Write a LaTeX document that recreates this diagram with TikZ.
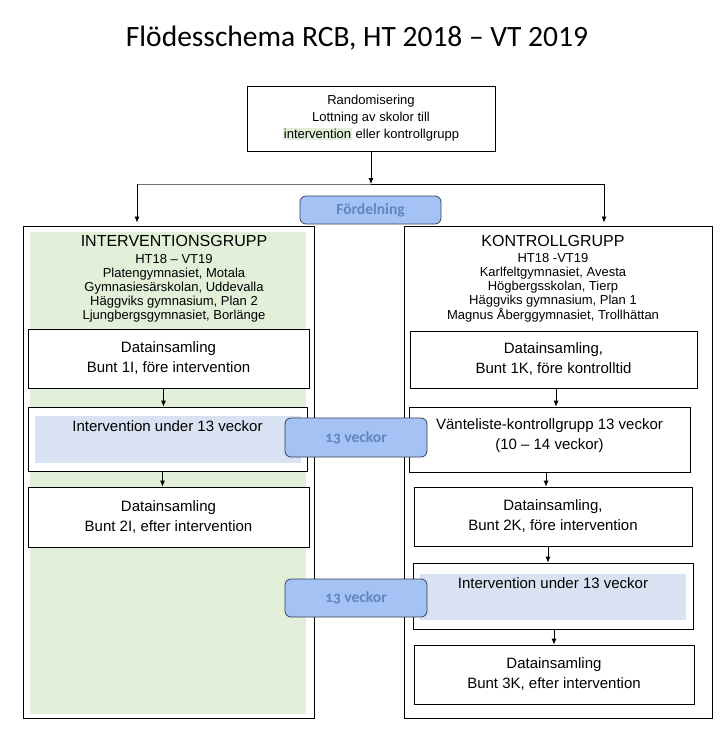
\documentclass[tikz,border=0pt]{standalone}
\usepackage{fontspec}
\setmainfont{Liberation Sans}
\newfontfamily\calibri{Carlito}
\newfontfamily\calibrios{Carlito}[Numbers=OldStyle]
\usetikzlibrary{arrows.meta}
\definecolor{grpgreen}{HTML}{E2EFD9}
\definecolor{intblue}{HTML}{D9E2F3}
\definecolor{tabfill}{HTML}{A4C2F4}
\definecolor{tabtext}{HTML}{5F86C1}
\definecolor{tabline}{HTML}{36435A}
\newcommand{\hlgreen}[1]{{\setlength{\fboxsep}{1pt}\colorbox{grpgreen}{#1}}}

\begin{document}
\begin{tikzpicture}[x=1pt,y=-1pt,
    box/.style={draw,line width=0.75pt,fill=white,inner sep=0pt,align=center,
      font={\fontsize{15}{20}\selectfont}},
    grp/.style={draw,line width=0.85pt,inner sep=0pt},
    tab/.style={draw=tabline,line width=0.8pt,fill=tabfill,rounded corners=6pt,
      inner sep=0pt,text=tabtext,font={\calibrios\bfseries\fontsize{15.5}{18}\selectfont}},
    small/.style={align=center,inner sep=0pt,font={\fontsize{13}{14}\selectfont}},
    head/.style={inner sep=0pt,font={\fontsize{16}{18}\selectfont}},
    arr/.style={-{Latex[length=6pt,width=5pt]},line width=0.75pt}]
  \useasboundingbox (0,0) rectangle (724,736);
  \node[font={\calibri\fontsize{29.5}{34}\selectfont}] (title) at (357,38)
    {Flödesschema RCB, HT 2018 – VT 2019};
  % randomisation and the split
  \node[box,minimum width=248pt,minimum height=65pt,
    font={\fontsize{13}{17}\selectfont}] (rand) at (371,118.5)
    {Randomisering\\Lottning av skolor till\\\hlgreen{intervention} eller kontrollgrupp};
  \coordinate (split) at (371,184);
  \coordinate (jl) at (137,184);
  \coordinate (jr) at (604,184);
  \draw[arr] (rand.south) -- (split);
  \draw[line width=0.75pt,black!55] (jl) -- (split);
  \draw[line width=0.75pt] (split) -- (jr);
  % the two groups
  \node[grp,minimum width=291pt,minimum height=492pt] (lgrp) at (168.5,472) {};
  \fill[grpgreen] (30,232) rectangle (306,714);
  \node[grp,minimum width=308pt,minimum height=492pt] (rgrp) at (558,472) {};
  \draw[arr,shorten >=3pt] (jl) -- (jl |- lgrp.north);
  \draw[arr,shorten >=3pt] (jr) -- (jr |- rgrp.north);
  \node[head] (lhead) at (174,241) {INTERVENTIONSGRUPP};
  \node[small] (lschools) at (174,288) {HT18 – VT19\\Platengymnasiet, Motala\\
    Gymnasiesärskolan, Uddevalla\\Häggviks gymnasium, Plan 2\\Ljungbergsgymnasiet, Borlänge};
  \node[head] (rhead) at (553,241) {KONTROLLGRUPP};
  \node[small] (rschools) at (553,288) {HT18 -VT19\\Karlfeltgymnasiet, Avesta\\
    Högbergsskolan, Tierp\\Häggviks gymnasium, Plan 1\\Magnus Åberggymnasiet, Trollhättan};
  % intervention group
  \node[box,minimum width=281pt,minimum height=59pt] (ld1) at (168.5,358.5)
    {Datainsamling\\Bunt 1I, före intervention};
  \node[box,minimum width=279pt,minimum height=64pt] (li) at (167.5,439) {};
  \fill[intblue] (35,416) rectangle (301,463);
  \node[inner sep=0pt,font={\fontsize{15}{20}\selectfont}] (litext) at (167.5,426)
    {Intervention under 13 veckor};
  \node[box,minimum width=281pt,minimum height=60pt] (ld2) at (168.5,517)
    {Datainsamling\\Bunt 2I, efter intervention};
  \draw[arr] ([xshift=-5pt]ld1.south) -- ([xshift=-5pt]ld1.south |- li.north);
  \draw[arr] ([xshift=-5pt]li.south) -- ([xshift=-5pt]li.south |- ld2.north);
  % control group
  \node[box,minimum width=287pt,minimum height=57pt] (rd1) at (553.5,359.5)
    {Datainsamling,\\Bunt 1K, före kontrolltid};
  \node[box,minimum width=281pt,minimum height=65pt] (rv) at (549.5,439.5) {};
  \node[inner sep=0pt,align=center,font={\fontsize{15}{20}\selectfont}] (rvtext)
    at (549.5,436) {Vänteliste-kontrollgrupp 13 veckor\\(10 – 14 veckor)};
  \node[box,minimum width=278pt,minimum height=59pt] (rd2) at (553,516.5)
    {Datainsamling,\\Bunt 2K, före intervention};
  \node[box,minimum width=280pt,minimum height=66pt] (ri) at (553,596) {};
  \fill[intblue] (420,574) rectangle (686,620);
  \node[inner sep=0pt,font={\fontsize{15}{20}\selectfont}] (ritext) at (553,583)
    {Intervention under 13 veckor};
  \node[box,minimum width=280pt,minimum height=59pt] (rd3) at (554,674.5)
    {Datainsamling\\Bunt 3K, efter intervention};
  \draw[arr] ([xshift=2.5pt]rd1.south) -- ([xshift=2.5pt]rd1.south |- rv.north);
  \draw[arr] ([xshift=-3.5pt]rv.south) -- ([xshift=-3.5pt]rv.south |- rd2.north);
  \draw[arr] ([xshift=-5pt]rd2.south) -- ([xshift=-5pt]rd2.south |- ri.north);
  \draw[arr] ([xshift=1pt]ri.south) -- ([xshift=1pt]ri.south |- rd3.north);
  % the tabs lie on top
  \node[tab,minimum width=141pt,minimum height=28pt] (fordel) at (370.5,210) {Fördelning};
  \node[tab,minimum width=142pt,minimum height=39pt] (weeks1) at (356,437.5) {13 veckor};
  \node[tab,minimum width=142pt,minimum height=38pt] (weeks2) at (356,598) {13 veckor};
\end{tikzpicture}
\end{document}
